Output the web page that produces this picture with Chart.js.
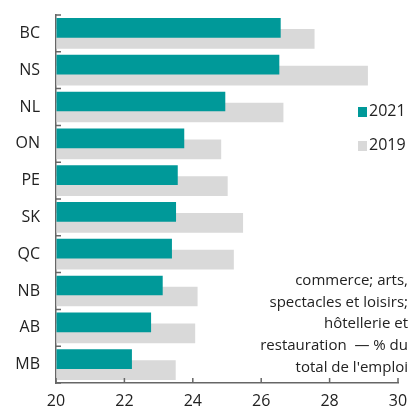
<!DOCTYPE html>
<html>
<head>
<meta charset="utf-8">
<script src="https://cdn.jsdelivr.net/npm/chart.js@4/dist/chart.umd.min.js"></script>
<style>
  body { margin: 0; background: #fff; font-family: "Open Sans", sans-serif; color: #222; }
  #wrap { position: relative; width: 412px; height: 408px; }
  .key { position: absolute; left: 358px; font-size: 16px; line-height: 20px; }
  .key span { display: inline-block; width: 9px; height: 10px; margin-right: 2px; vertical-align: -1px; }
  #note { position: absolute; right: 4px; top: 269px; font-size: 15px; line-height: 21.7px; text-align: right; white-space: pre; }
</style>
</head>
<body>
<div id="wrap">
  <canvas id="chart"></canvas>
  <div class="key" style="top:100px"><span style="background:#009999"></span>2021</div>
  <div class="key" style="top:134px"><span style="background:#d9d9d9"></span>2019</div>
  <div id="note"></div>
</div>
<script>
const provinces = ['BC', 'NS', 'NL', 'ON', 'PE', 'SK', 'QC', 'NB', 'AB', 'MB'];
const share2021 = [26.57, 26.53, 24.95, 23.75, 23.56, 23.51, 23.39, 23.12, 22.78, 22.22];
const share2019 = [27.56, 29.12, 26.65, 24.83, 25.02, 25.47, 25.2, 24.14, 24.07, 23.5];
const noteLines = ['commerce; arts,', 'spectacles et loisirs;', 'hôtellerie et', 'restauration  — % du', "total de l'emploi"];

document.getElementById('note').textContent = noteLines.join('\n');

const axisColor = '#666';

// short tick marks drawn inside the plot, like the original
const innerTicks = {
    id: 'innerTicks',
    afterDatasetsDraw(chart) {
        const { ctx, scales: { x, y } } = chart;
        ctx.save();
        ctx.strokeStyle = axisColor;
        ctx.lineWidth = 1.5;
        ctx.beginPath();
        for (let i = 0; i <= provinces.length; i++) {
            const py = y.getPixelForValue(i - 0.5);
            ctx.moveTo(x.left, py);
            ctx.lineTo(x.left + 5, py);
        }
        x.ticks.forEach(t => {
            const px = x.getPixelForValue(t.value);
            ctx.moveTo(px, y.bottom);
            ctx.lineTo(px, y.bottom - 5);
        });
        ctx.stroke();
        ctx.restore();
    }
};

new Chart(document.getElementById('chart'), {
    type: 'bar',
    data: {
        labels: provinces,
        datasets: [
            {
                label: '2021',
                data: share2021,
                backgroundColor: '#009999',
                base: 20,
                categoryPercentage: 0.598,
                barPercentage: 1.79
            },
            {
                label: '2019',
                data: share2019,
                backgroundColor: '#d9d9d9',
                base: 20,
                categoryPercentage: 0.598,
                barPercentage: 1.79
            }
        ]
    },
    options: {
        indexAxis: 'y',
        responsive: true,
        maintainAspectRatio: false,
        animation: false,
        layout: { padding: { top: 15, right: 14, left: 0, bottom: 0 } },
        plugins: {
            legend: { display: false },
            tooltip: { enabled: false }
        },
        scales: {
            x: {
                min: 20,
                max: 30,
                ticks: { stepSize: 2, color: '#222', padding: 9, font: { family: 'Open Sans', size: 16 } },
                grid: { drawOnChartArea: false, drawTicks: false },
                border: { color: axisColor, width: 1.5 },
                afterFit(scale) {
                    scale.height = 25;
                    scale.paddingLeft = 0;
                    scale.paddingRight = 0;
                }
            },
            y: {
                ticks: { color: '#222', padding: 16, font: { family: 'Open Sans', size: 16 } },
                grid: { drawOnChartArea: false, drawTicks: false },
                border: { color: axisColor, width: 1.5 },
                afterFit(scale) {
                    scale.width = 56;
                    scale.paddingTop = 0;
                    scale.paddingBottom = 0;
                }
            }
        }
    },
    plugins: [innerTicks]
});
</script>
</body>
</html>
